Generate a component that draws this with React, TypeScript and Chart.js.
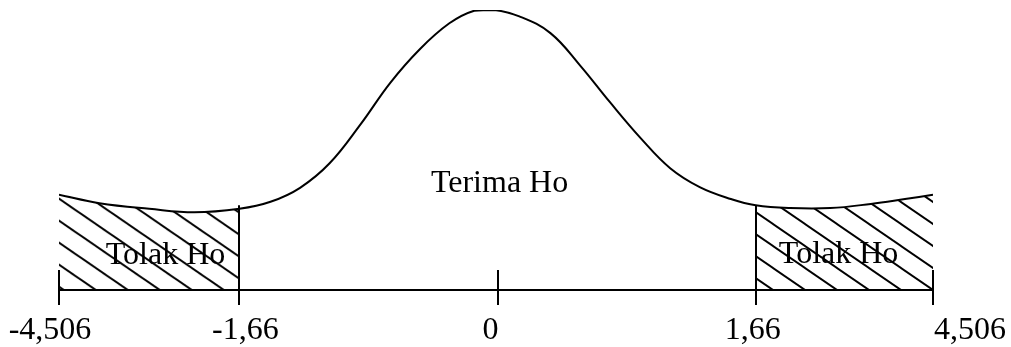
import React, { useEffect, useRef } from "react";
import { Chart, registerables } from "chart.js";

Chart.register(...registerables);

// Schematic positions (axis units) of the curve and its heights
const curveX = [-2.82, -2.56, -2.24, -1.95, -1.66, -1.46, -1.27, -1.08, -0.88, -0.69, -0.5, -0.31, -0.15, -0.02, 0.14, 0.34, 0.53, 0.72, 0.92, 1.11, 1.3, 1.5, 1.66, 1.88, 2.14, 2.4, 2.62, 2.8];
const curveY = [0.136, 0.124, 0.116, 0.111, 0.116, 0.126, 0.146, 0.181, 0.237, 0.296, 0.344, 0.381, 0.399, 0.4, 0.391, 0.367, 0.321, 0.269, 0.217, 0.174, 0.147, 0.13, 0.121, 0.117, 0.117, 0.123, 0.13, 0.136];

// Axis ticks (positions in axis units) and their printed labels
const tickPositions = [-2.82, -1.66, 0, 1.66, 2.8];
const tickLabels = ["-4,506", "-1,66", "0", "1,66", "4,506"];
const tickStubTops = [0.0286, 0.121, 0.0286, 0.121, 0.0286];

// Critical values bounding the rejection regions
const criticalLeft = -1.66;
const criticalRight = 1.66;

// Region labels
const regionLabels = ["Tolak Ho", "Terima Ho", "Tolak Ho"];
const regionLabelX = [-2.135, 0.013, 2.193];
const regionLabelY = [0.037, 0.14, 0.0386];

// style
const FONT = '32px "Liberation Serif", "Times New Roman", Times, serif';
const tickLabelShift = [-9, 6, -7, -3, 37];
const hatchAnchors = [-1.76, 2.8];

function makeHatch(): CanvasPattern {
  const c = document.createElement("canvas");
  c.width = 32;
  c.height = 22;
  const g = c.getContext("2d")!;
  g.strokeStyle = "#000";
  g.lineWidth = 1.9;
  for (const k of [-1, 0, 1]) {
    g.beginPath();
    g.moveTo(k * 32 - 32, -22);
    g.lineTo(k * 32 + 64, 44);
    g.stroke();
  }
  return g.createPattern(c, "repeat")!;
}

export default function App() {
  const ref = useRef<HTMLCanvasElement | null>(null);

  useEffect(() => {
    if (!ref.current) return;
    const leftPattern = makeHatch();
    const rightPattern = makeHatch();
    const pts = curveX.map((x, i) => ({ x, y: curveY[i] }));
    const leftPts = pts.filter((p) => p.x <= criticalLeft + 1e-9);
    const rightPts = pts.filter((p) => p.x >= criticalRight - 1e-9);

    const decor = {
      id: "decor",
      beforeDatasetsDraw(chart: any) {
        const xs = chart.scales.x;
        const ys = chart.scales.y;
        const py = ys.getPixelForValue(0);
        const pats = [leftPattern, rightPattern];
        pats.forEach((p, i) => {
          const px = xs.getPixelForValue(hatchAnchors[i]);
          if ((p as any).setTransform) p.setTransform(new DOMMatrix([1, 0, 0, 1, px, py]));
        });
      },
      afterDatasetsDraw(chart: any) {
        const ctx = chart.ctx as CanvasRenderingContext2D;
        const xs = chart.scales.x;
        const ys = chart.scales.y;
        const base = ys.getPixelForValue(0);
        ctx.save();
        ctx.strokeStyle = "#000";
        ctx.lineWidth = 2;
        tickPositions.forEach((v, i) => {
          const px = Math.round(xs.getPixelForValue(v));
          ctx.beginPath();
          ctx.moveTo(px, base);
          ctx.lineTo(px, ys.getPixelForValue(tickStubTops[i]));
          ctx.stroke();
        });
        ctx.fillStyle = "#000";
        ctx.font = FONT;
        ctx.textAlign = "center";
        ctx.textBaseline = "alphabetic";
        regionLabels.forEach((t, i) => {
          ctx.fillText(t, xs.getPixelForValue(regionLabelX[i]), ys.getPixelForValue(regionLabelY[i]));
        });
        tickLabels.forEach((t, i) => {
          ctx.fillText(t, xs.getPixelForValue(tickPositions[i]) + tickLabelShift[i], base + 49);
        });
        ctx.restore();
      },
    };

    const chart = new Chart(ref.current, {
      type: "line",
      data: {
        datasets: [
          {
            data: pts,
            borderColor: "#000",
            borderWidth: 2,
            pointRadius: 0,
            tension: 0.4,
            fill: false,
          },
          {
            data: leftPts,
            borderWidth: 0,
            borderColor: "rgba(0,0,0,0)",
            backgroundColor: leftPattern as any,
            pointRadius: 0,
            tension: 0.4,
            fill: "origin",
          },
          {
            data: rightPts,
            borderWidth: 0,
            borderColor: "rgba(0,0,0,0)",
            backgroundColor: rightPattern as any,
            pointRadius: 0,
            tension: 0.4,
            fill: "origin",
          },
        ],
      },
      options: {
        animation: false,
        responsive: false,
        events: [],
        layout: { padding: { left: 59, right: 78, top: 10, bottom: 42 } },
        plugins: { legend: { display: false }, tooltip: { enabled: false } },
        scales: {
          x: {
            type: "linear",
            min: tickPositions[0],
            max: tickPositions[tickPositions.length - 1],
            afterBuildTicks: (scale: any) => {
              scale.ticks = tickPositions.map((v) => ({ value: v }));
            },
            grid: {
              drawOnChartArea: false,
              drawTicks: true,
              tickLength: 15,
              color: "#000",
              lineWidth: 2,
            },
            border: { display: true, color: "#000", width: 2 },
            ticks: { display: false },
          },
          y: { type: "linear", min: 0, max: 0.4, display: false },
        },
      },
      plugins: [decor],
    } as any);

    return () => chart.destroy();
  }, []);

  return (
    <div style={{ position: "absolute", left: 0, top: 0, width: 1011, height: 347, background: "#fff" }}>
      <canvas ref={ref} width={1011} height={347} style={{ display: "block" }} />
    </div>
  );
}
